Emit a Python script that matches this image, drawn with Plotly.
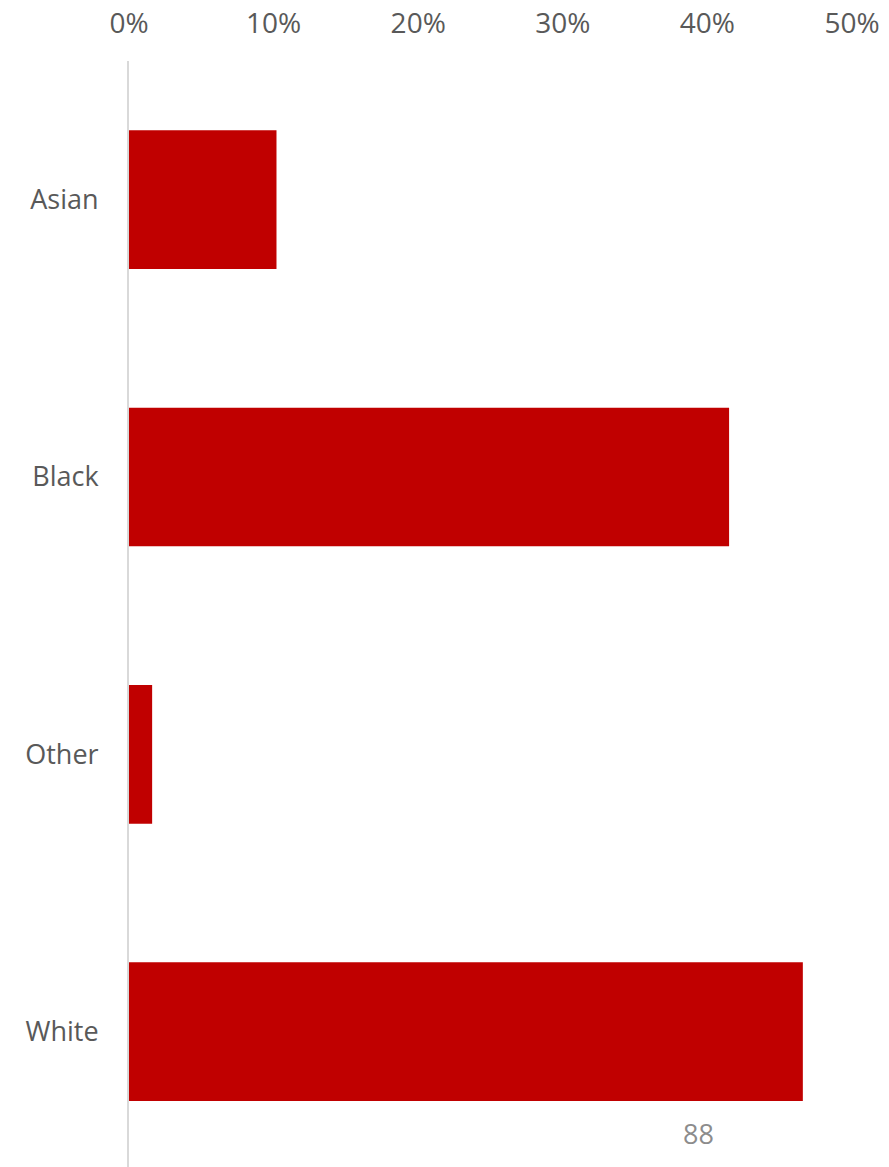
import plotly.graph_objects as go

categories = ["Asian", "Black", "Other", "White"]
values = [0.102, 0.415, 0.016, 0.466]
tick_vals = [0, 0.1, 0.2, 0.3, 0.4, 0.5]
tick_text = ["0%", "10%", "20%", "30%", "40%", "50%"]
page_number = "88"

# page is rendered with an 8px body offset
L, R, T, B, W, H = 121, 45, 53, 8, 889, 1167

fig = go.Figure(go.Bar(
    x=values, y=categories, orientation="h",
    marker=dict(color="#c00000", line=dict(width=0)),
    width=0.5,
))

fig.update_layout(
    width=W, height=H,
    margin=dict(l=L, r=R, t=T, b=B),
    paper_bgcolor="white", plot_bgcolor="white",
    font=dict(family="Open Sans", size=27, color="#595959"),
    showlegend=False,
    xaxis=dict(
        side="top", range=[0, 0.5], tickvals=tick_vals, ticktext=tick_text,
        showgrid=False, zeroline=False, showline=False, ticks="",
        ticklabelstandoff=21, automargin=False, tickfont=dict(size=28),
    ),
    yaxis=dict(
        range=[3.488, -0.5], showgrid=False, zeroline=False,
        showline=True, linecolor="#d9d9d9", linewidth=2, ticks="",
        ticklabelstandoff=23, automargin=False, tickfont=dict(size=27),
    ),
    annotations=[dict(
        text=page_number,
        x=(690 - L) / (W - L - R), y=(H - 1125 - B) / (H - T - B),
        xref="paper", yref="paper", xanchor="center", yanchor="middle",
        showarrow=False, font=dict(size=27, color="#8c8c8c", family="Open Sans"),
    )],
)

fig.write_html("out.html")
